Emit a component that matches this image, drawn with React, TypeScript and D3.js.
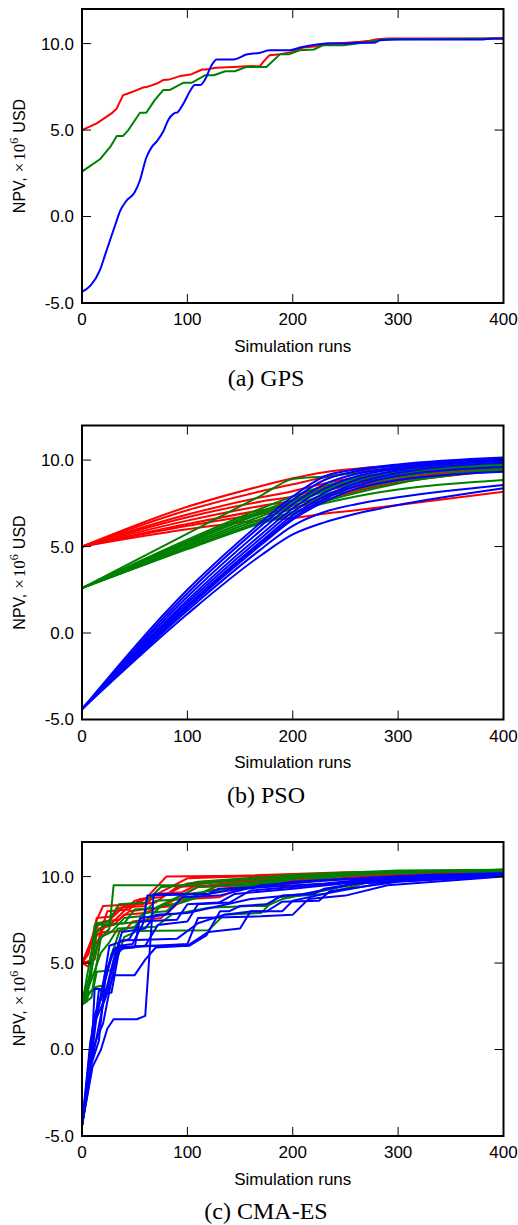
import React from "react";
import * as d3 from "d3";

// ---------- axes ----------
const X_TICKS = [0, 100, 200, 300, 400];
const Y_TICKS = [-5, 0, 5, 10];
const Y_TICK_LABELS = ["-5.0", "0.0", "5.0", "10.0"];
const CAPTIONS = ["(a) GPS", "(b) PSO", "(c) CMA-ES"];

// ---------- (a) GPS ----------
const gpsRed: [number, number][] = [
  [0, 5.0], [14, 5.39], [28, 5.96], [33, 6.25], [39, 7.02], [43, 7.1], [52, 7.31], [58, 7.46], [62, 7.5],
  [71, 7.69], [77, 7.89], [83, 7.93], [93, 8.12], [103, 8.21], [114, 8.5], [118, 8.5], [127, 8.6], [144, 8.65],
  [156, 8.69], [169, 8.7], [172, 8.94], [178, 9.33], [188, 9.39], [200, 9.52], [210, 9.77], [223, 9.85],
  [232, 10.0], [248, 10.04], [264, 10.1], [273, 10.16], [280, 10.25], [290, 10.29], [400, 10.29],
];
const gpsGreen: [number, number][] = [
  [0, 2.6], [17, 3.31], [27, 4.04], [33, 4.66], [39, 4.66], [44, 5.0], [55, 6.0], [61, 6.0], [69, 6.73],
  [77, 7.31], [83, 7.31], [96, 7.73], [104, 7.73], [117, 8.17], [125, 8.17], [136, 8.4], [145, 8.4],
  [156, 8.65], [175, 8.65], [188, 9.39], [197, 9.39], [207, 9.62], [220, 9.66], [229, 9.91], [248, 9.91],
  [261, 10.0], [273, 10.1], [286, 10.25], [400, 10.29],
];
const gpsBlue: [number, number][] = [
  [0, -4.35], [8, -4.0], [17, -3.1], [22, -2.2], [27, -1.3], [32, -0.4], [36, 0.3], [42, 0.9], [50, 1.4],
  [55, 2.1], [61, 3.4], [66, 4.0], [71, 4.35], [77, 4.9], [82, 5.6], [87, 5.95], [91, 6.05], [96, 6.5],
  [103, 7.3], [107, 7.6], [112, 7.6], [117, 7.95], [123, 8.75], [128, 9.08], [144, 9.08], [150, 9.2],
  [156, 9.37], [169, 9.47], [178, 9.62], [197, 9.62], [207, 9.77], [235, 10.0], [248, 10.0], [261, 10.05],
  [277, 10.05], [283, 10.19], [299, 10.23], [378, 10.23], [390, 10.29], [400, 10.29],
];

// ---------- (b) PSO ----------
const psoRuns = [0, 100, 170, 200, 230, 260, 300, 400];
const psoRed = [
  [5.0, 7.3, 8.5, 8.95, 9.3, 9.5, 9.7, 10.05],
  [5.0, 7.1, 8.2, 8.6, 9.0, 9.3, 9.55, 9.95],
  [5.0, 6.85, 7.85, 8.2, 8.65, 9.0, 9.35, 9.85],
  [5.0, 6.7, 7.6, 7.9, 8.4, 8.8, 9.2, 9.75],
  [5.0, 6.5, 7.35, 7.65, 8.2, 8.65, 9.05, 9.65],
  [5.0, 6.3, 7.1, 7.4, 7.95, 8.45, 8.9, 9.55],
  [5.0, 6.0, 6.5, 6.65, 6.9, 7.1, 7.4, 8.17],
  [5.0, 6.2, 6.9, 7.2, 7.7, 8.2, 8.7, 9.4],
];
const psoGreen = [
  [2.6, 5.75, 7.95, 8.9, 9.05, 9.25, 9.55, 9.95],
  [2.6, 5.4, 7.2, 7.9, 8.5, 8.95, 9.4, 9.85],
  [2.6, 5.3, 7.05, 7.7, 8.35, 8.85, 9.3, 9.8],
  [2.6, 5.2, 6.9, 7.5, 8.2, 8.7, 9.2, 9.75],
  [2.6, 5.1, 6.75, 7.35, 8.0, 8.5, 9.0, 9.65],
  [2.6, 5.0, 6.6, 7.2, 7.85, 8.3, 8.8, 9.52],
  [2.6, 4.9, 6.45, 7.0, 7.5, 7.9, 8.3, 8.85],
  [2.6, 4.85, 6.35, 6.9, 7.6, 8.1, 8.65, 9.45],
  [2.6, 5.25, 7.0, 7.6, 8.3, 8.8, 9.25, 9.7],
];
const psoBlue = [
  [-4.4, 2.5, 6.4, 7.9, 9.05, 9.45, 9.75, 10.15],
  [-4.4, 2.3, 6.2, 7.7, 8.85, 9.35, 9.7, 10.1],
  [-4.4, 2.1, 5.95, 7.45, 8.6, 9.2, 9.6, 10.05],
  [-4.4, 1.9, 5.7, 7.2, 8.35, 9.05, 9.5, 10.0],
  [-4.4, 1.75, 5.5, 7.0, 8.1, 8.85, 9.4, 9.95],
  [-4.4, 1.6, 5.3, 6.8, 7.9, 8.65, 9.25, 9.85],
  [-4.4, 1.45, 5.1, 6.55, 7.6, 8.35, 8.85, 9.33],
  [-4.4, 1.3, 4.85, 6.2, 7.0, 7.45, 7.85, 8.56],
  [-4.4, 1.1, 4.5, 5.7, 6.4, 6.9, 7.4, 8.37],
  [-4.4, 1.5, 5.2, 6.65, 7.75, 8.5, 9.1, 9.6],
];

// ---------- (c) CMA-ES ----------
const cmaRed: [number, number][][] = [
  [[0, 5.0], [8, 5.0], [14, 7.5], [20, 8.3], [50, 8.4], [60, 8.7], [80, 10.0], [150, 10.05], [250, 10.25], [400, 10.3]],
  [[0, 5.0], [6, 5.5], [14, 7.6], [30, 7.7], [40, 8.3], [70, 8.5], [90, 9.4], [120, 9.5], [150, 9.7], [200, 9.9], [280, 10.2], [400, 10.3]],
  [[0, 5.0], [10, 5.0], [18, 6.8], [24, 8.0], [45, 8.1], [55, 8.7], [75, 8.8], [100, 9.6], [160, 9.8], [240, 10.1], [400, 10.3]],
  [[0, 5.0], [8, 6.0], [16, 7.0], [30, 7.2], [40, 7.8], [60, 7.9], [80, 8.4], [110, 9.4], [160, 9.5], [220, 10.0], [400, 10.25]],
  [[0, 5.0], [6, 4.8], [12, 6.0], [20, 6.8], [40, 6.85], [48, 7.4], [60, 7.5], [75, 7.6], [90, 8.4], [120, 9.2], [180, 9.6], [260, 10.2], [400, 10.3]],
  [[0, 5.0], [10, 6.5], [16, 7.3], [26, 7.4], [35, 8.2], [60, 8.3], [70, 9.0], [95, 9.1], [115, 9.7], [180, 9.9], [300, 10.25], [400, 10.3]],
  [[0, 5.0], [12, 5.2], [20, 7.4], [35, 7.5], [45, 8.0], [85, 8.3], [100, 8.7], [130, 8.8], [150, 9.3], [200, 9.6], [260, 10.0], [400, 10.25]],
  [[0, 5.0], [7, 5.1], [13, 6.5], [22, 7.1], [28, 7.3], [50, 8.6], [65, 8.8], [100, 9.9], [200, 10.1], [400, 10.3]],
];
const cmaGreen: [number, number][][] = [
  [[0, 2.6], [8, 4.5], [16, 6.3], [26, 7.0], [30, 9.5], [95, 9.5], [110, 9.7], [200, 10.1], [300, 10.35], [400, 10.4]],
  [[0, 2.6], [6, 3.2], [12, 3.6], [20, 3.7], [28, 5.5], [36, 6.9], [50, 7.1], [60, 7.9], [80, 8.0], [100, 9.0], [140, 9.3], [180, 9.8], [260, 10.2], [400, 10.4]],
  [[0, 2.6], [10, 3.5], [18, 6.5], [28, 6.8], [40, 7.6], [55, 7.7], [70, 8.6], [100, 8.7], [130, 9.5], [200, 9.9], [300, 10.3], [400, 10.4]],
  [[0, 2.6], [8, 4.0], [14, 6.8], [22, 7.2], [40, 7.3], [60, 7.4], [75, 8.3], [95, 8.5], [120, 9.0], [170, 9.6], [240, 10.2], [400, 10.35]],
  [[0, 2.6], [9, 3.0], [14, 4.5], [30, 4.6], [40, 6.5], [52, 6.85], [120, 6.9], [135, 7.8], [170, 7.9], [185, 8.8], [230, 9.0], [280, 9.8], [400, 10.35]],
  [[0, 2.6], [7, 5.0], [14, 7.3], [25, 7.4], [35, 8.4], [60, 8.5], [75, 9.4], [100, 9.5], [150, 9.8], [220, 10.1], [400, 10.4]],
  [[0, 2.6], [10, 4.2], [18, 5.6], [26, 6.2], [34, 7.0], [70, 7.1], [85, 7.8], [120, 8.2], [160, 8.3], [175, 8.3], [190, 8.7], [230, 9.2], [270, 9.7], [400, 10.3]],
  [[0, 2.6], [5, 2.8], [12, 7.2], [40, 7.3], [50, 8.1], [70, 8.2], [90, 8.8], [110, 9.4], [200, 9.7], [260, 10.1], [400, 10.4]],
];
const cmaBlue: [number, number][][] = [
  [[0, -4.4], [10, -1.0], [18, 0.0], [24, 1.2], [30, 1.75], [52, 1.75], [60, 1.95], [68, 9.0], [120, 9.0], [130, 9.3], [170, 9.4], [200, 9.7], [260, 9.9], [330, 10.1], [400, 10.2]],
  [[0, -4.4], [8, -1.5], [12, 3.5], [20, 3.5], [28, 5.5], [40, 5.9], [60, 6.0], [102, 6.0], [118, 6.6], [131, 8.0], [140, 8.0], [150, 8.3], [175, 8.4], [190, 8.9], [220, 9.0], [230, 9.3], [260, 9.6], [400, 10.1]],
  [[0, -4.4], [10, -0.5], [20, 2.6], [30, 4.3], [50, 4.3], [60, 5.2], [70, 5.9], [100, 6.0], [120, 6.8], [150, 7.0], [160, 8.0], [190, 8.0], [200, 8.6], [230, 9.0], [300, 9.8], [400, 10.1]],
  [[0, -4.4], [6, -2.0], [14, 2.0], [22, 4.4], [32, 5.9], [60, 6.0], [72, 7.2], [100, 7.4], [110, 8.4], [140, 8.5], [160, 9.2], [200, 9.4], [300, 9.9], [400, 10.15]],
  [[0, -4.4], [8, 0.5], [18, 3.0], [26, 6.0], [45, 6.4], [55, 7.4], [90, 7.5], [100, 8.4], [130, 8.5], [145, 9.0], [200, 9.3], [280, 9.8], [400, 10.1]],
  [[0, -4.4], [10, 1.3], [20, 2.7], [30, 5.2], [38, 6.8], [60, 7.0], [70, 7.8], [100, 7.9], [130, 8.3], [160, 8.7], [210, 9.0], [260, 9.6], [400, 10.05]],
  [[0, -4.4], [7, -1.2], [16, 0.5], [22, 4.0], [30, 5.8], [50, 5.9], [55, 7.6], [80, 7.8], [95, 8.8], [130, 8.9], [170, 9.5], [240, 9.8], [400, 10.2]],
  [[0, -4.4], [12, 2.0], [20, 3.2], [28, 3.3], [36, 6.0], [48, 6.1], [58, 7.3], [62, 8.9], [120, 9.0], [150, 9.3], [230, 9.6], [300, 10.0], [400, 10.15]],
  [[0, -4.4], [9, -0.2], [16, 3.4], [24, 3.5], [32, 5.5], [40, 5.9], [100, 6.1], [110, 7.6], [170, 7.7], [200, 7.8], [215, 8.7], [250, 8.9], [290, 9.5], [400, 10.0]],
  [[0, -4.4], [11, 0.2], [20, 1.5], [28, 4.0], [36, 6.3], [90, 6.4], [110, 7.3], [135, 7.8], [160, 7.98], [175, 7.98], [190, 8.55], [225, 8.6], [235, 9.15], [300, 9.7], [400, 10.05]],
];

const RED = "#ff0000";
const GREEN = "#008000";
const BLUE = "#0000ff";

const W = 518;
const H = 1225;
const LEFT = 82;
const RIGHT = 503.5;
const TOP = 9;
const BOTTOM = 303;
const OFFSETS = [0, 416.5, 833];
const SANS = "'Liberation Sans', Arial, Helvetica, sans-serif";
const SERIF = "'Liberation Serif', 'DejaVu Serif', serif";

type Series = { color: string; lines: [number, number][][]; curve: d3.CurveFactory };

const toPairs = (vals: number[][]): [number, number][][] =>
  vals.map((v) => v.map((y, i) => [psoRuns[i], y] as [number, number]));

function Panel({ offset, series, caption, id }: { offset: number; series: Series[]; caption: string; id: string }) {
  const x = d3.scaleLinear().domain([0, 400]).range([LEFT, RIGHT]);
  const y = d3.scaleLinear().domain([-5, 12]).range([BOTTOM + offset, TOP + offset]);
  const top = TOP + offset;
  const bottom = BOTTOM + offset;
  const tickLen = 9;
  return (
    <g>
      <defs>
        <clipPath id={id}>
          <rect x={LEFT} y={top} width={RIGHT - LEFT} height={bottom - top} />
        </clipPath>
      </defs>
      <g clipPath={`url(#${id})`}>
        {series.map((s, si) => {
          const line = d3
            .line<[number, number]>()
            .x((d) => x(d[0]))
            .y((d) => y(d[1]))
            .curve(s.curve);
          return s.lines.map((l, li) => (
            <path key={`${si}-${li}`} d={line(l) || ""} fill="none" stroke={s.color} strokeWidth={2} strokeLinejoin="round" />
          ));
        })}
      </g>
      {X_TICKS.map((t) => (
        <g key={`xt${t}`}>
          <line x1={x(t)} x2={x(t)} y1={bottom} y2={bottom - tickLen} stroke="#000" strokeWidth={1} />
          <line x1={x(t)} x2={x(t)} y1={top} y2={top + tickLen} stroke="#000" strokeWidth={1} />
          <text x={x(t)} y={bottom + 22} textAnchor="middle" fontFamily={SANS} fontSize={17} fill="#000">
            {t}
          </text>
        </g>
      ))}
      {Y_TICKS.map((t, i) => (
        <g key={`yt${t}`}>
          <line x1={LEFT} x2={LEFT + tickLen} y1={y(t)} y2={y(t)} stroke="#000" strokeWidth={1} />
          <line x1={RIGHT} x2={RIGHT - tickLen} y1={y(t)} y2={y(t)} stroke="#000" strokeWidth={1} />
          <text x={74} y={y(t)} dy="0.35em" textAnchor="end" fontFamily={SANS} fontSize={17} fill="#000">
            {Y_TICK_LABELS[i]}
          </text>
        </g>
      ))}
      <rect x={LEFT} y={top} width={RIGHT - LEFT} height={bottom - top} fill="none" stroke="#000" strokeWidth={2} />
      <text x={(LEFT + RIGHT) / 2} y={bottom + 48.5} textAnchor="middle" fontFamily={SANS} fontSize={17} fill="#000">
        Simulation runs
      </text>
      <text
        transform={`translate(25, ${(top + bottom) / 2}) rotate(-90)`}
        textAnchor="middle"
        fontFamily={SANS}
        fontSize={16}
        fill="#000"
      >
        NPV,
        <tspan fontFamily={SERIF} fontSize={17} dx={5}>×</tspan>
        <tspan fontFamily={SERIF} fontSize={17} dx={2}>10</tspan>
        <tspan fontFamily={SERIF} fontSize={12} dy={-7}>6</tspan>
        <tspan dy={7} dx={5}>USD</tspan>
      </text>
      <text x={266} y={bottom + 83} textAnchor="middle" fontFamily={SERIF} fontSize={24} fill="#000">
        {caption}
      </text>
    </g>
  );
}

export default function App() {
  const panels: Series[][] = [
    [
      { color: RED, lines: [gpsRed], curve: d3.curveLinear },
      { color: GREEN, lines: [gpsGreen], curve: d3.curveLinear },
      { color: BLUE, lines: [gpsBlue], curve: d3.curveMonotoneX },
    ],
    [
      { color: RED, lines: toPairs(psoRed), curve: d3.curveMonotoneX },
      { color: GREEN, lines: toPairs(psoGreen), curve: d3.curveMonotoneX },
      { color: BLUE, lines: toPairs(psoBlue), curve: d3.curveMonotoneX },
    ],
    [
      { color: RED, lines: cmaRed, curve: d3.curveLinear },
      { color: GREEN, lines: cmaGreen, curve: d3.curveLinear },
      { color: BLUE, lines: cmaBlue, curve: d3.curveLinear },
    ],
  ];
  return (
    <svg
      width={W}
      height={H}
      viewBox={`0 0 ${W} ${H}`}
      style={{ position: "absolute", left: 0, top: 0, background: "#fff" }}
    >
      <rect x={0} y={0} width={W} height={H} fill="#fff" />
      {panels.map((p, i) => (
        <Panel key={i} id={`clip${i}`} offset={OFFSETS[i]} series={p} caption={CAPTIONS[i]} />
      ))}
    </svg>
  );
}
